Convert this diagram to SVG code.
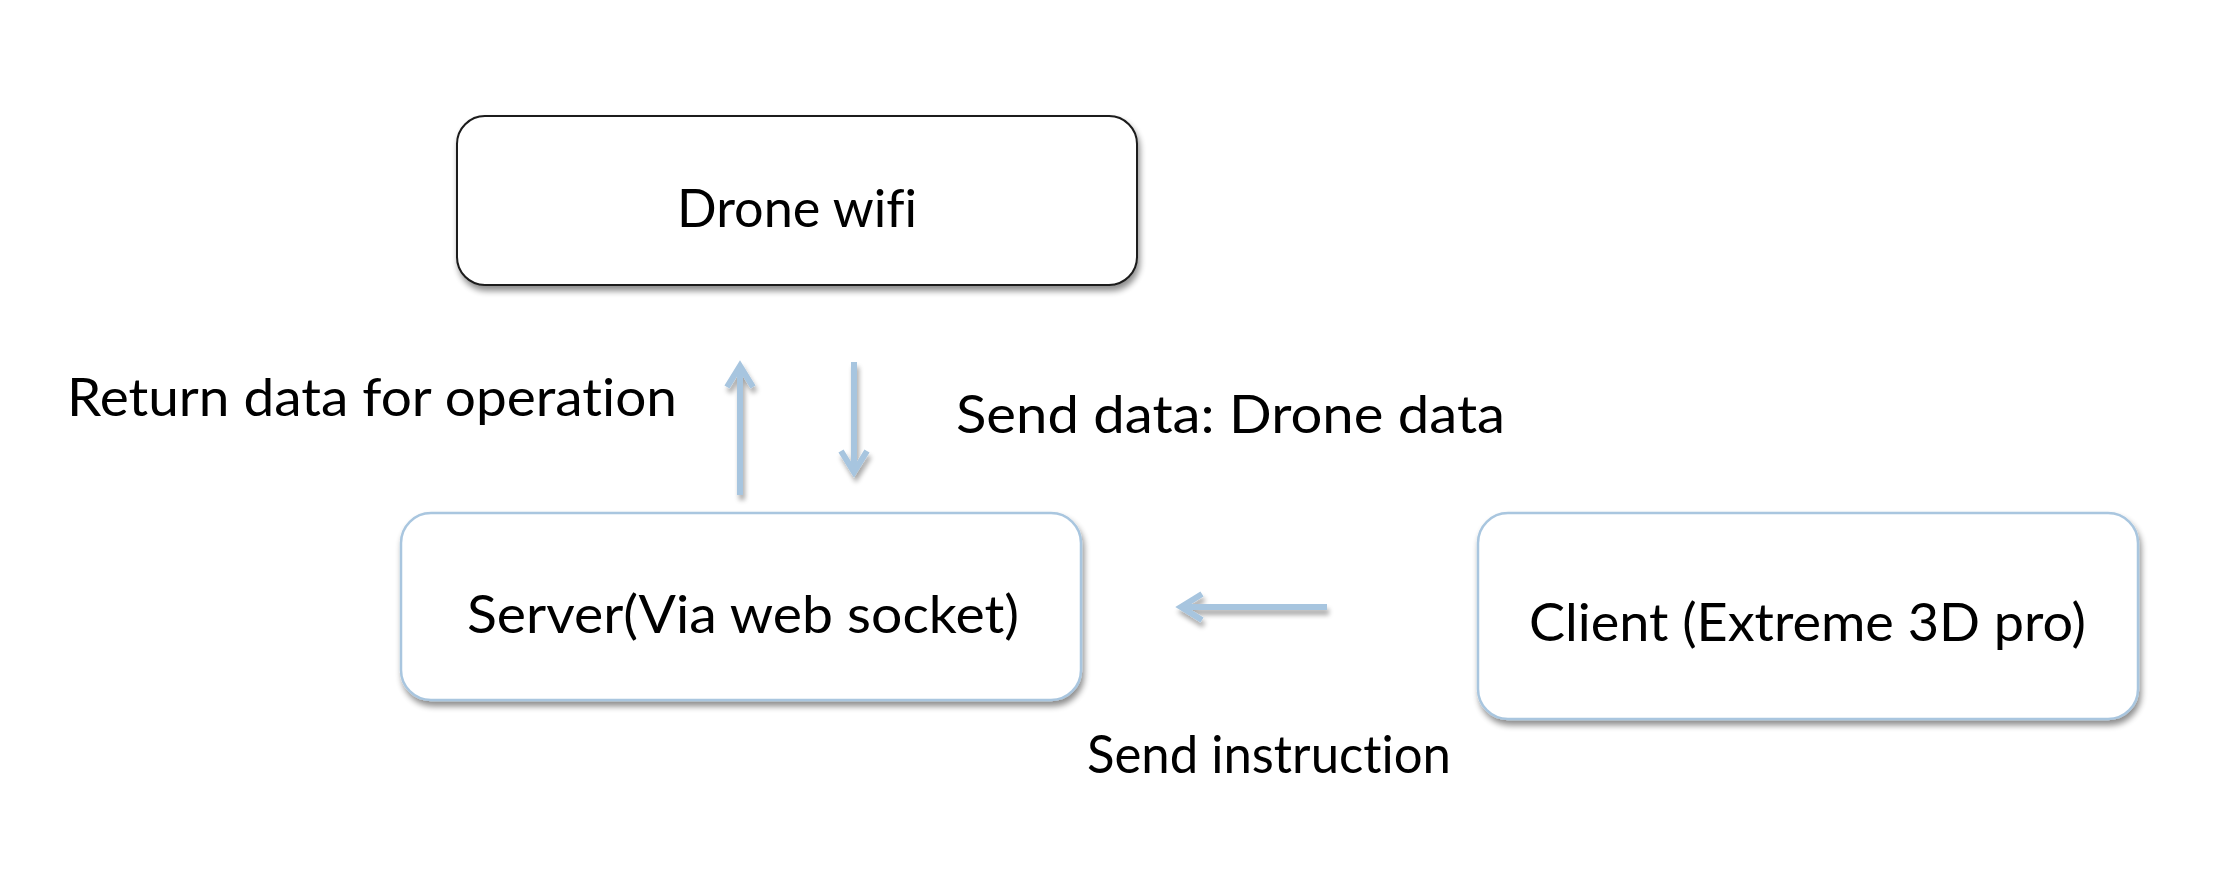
<svg xmlns="http://www.w3.org/2000/svg" width="2220" height="874" viewBox="0 0 2220 874">
  <style>
    .label { font-family: Lato, "Liberation Sans", sans-serif; font-size: 52px; fill: #000; font-variant-ligatures: none; font-feature-settings: "liga" 0, "clig" 0, "dlig" 0; }
    .box-dark { fill: #fff; stroke: #1a1a1a; stroke-width: 2; }
    .box-light { fill: #fff; stroke: #a9c6df; stroke-width: 2.5; }
    .flow { stroke: #a7c5df; stroke-width: 6; fill: none; stroke-linecap: butt; }
    .head { stroke: #a7c5df; stroke-width: 6; fill: none; stroke-linejoin: miter; stroke-linecap: butt; }
  </style>
  <defs>
    <filter id="shadow" x="-10%" y="-10%" width="125%" height="130%">
      <feGaussianBlur in="SourceAlpha" stdDeviation="3"/>
      <feOffset dx="2" dy="5" result="b"/>
      <feComponentTransfer><feFuncA type="linear" slope="0.45"/></feComponentTransfer>
      <feMerge><feMergeNode/><feMergeNode in="SourceGraphic"/></feMerge>
    </filter>
    <filter id="arrowShadow" x="-50%" y="-50%" width="200%" height="200%">
      <feGaussianBlur in="SourceAlpha" stdDeviation="2.5"/>
      <feOffset dx="2" dy="5" result="b"/>
      <feComponentTransfer><feFuncA type="linear" slope="0.35"/></feComponentTransfer>
      <feMerge><feMergeNode/><feMergeNode in="SourceGraphic"/></feMerge>
    </filter>
  </defs>

  <rect width="2220" height="874" fill="#fff"/>

  <g id="drone-wifi">
    <rect class="box-dark" x="457" y="116" width="680" height="169" rx="28" filter="url(#shadow)"/>
    <text class="label" x="677" y="227" textLength="240" lengthAdjust="spacingAndGlyphs">Drone wifi</text>
  </g>

  <g id="server">
    <rect class="box-light" x="401" y="513" width="680" height="187" rx="30" filter="url(#shadow)"/>
    <text class="label" x="467" y="633" textLength="552" lengthAdjust="spacingAndGlyphs">Server(Via web socket)</text>
  </g>

  <g id="client">
    <rect class="box-light" x="1478" y="513" width="660" height="206" rx="30" filter="url(#shadow)"/>
    <text class="label" x="1529" y="641" textLength="557" lengthAdjust="spacingAndGlyphs">Client (Extreme 3D pro)</text>
  </g>

  <g id="connectors">
    <!-- server to drone: return data -->
    <g filter="url(#arrowShadow)">
      <line class="flow" x1="740" y1="495" x2="740" y2="366"/>
      <polyline class="head" points="727,387 740,366 753,387"/>
    </g>
    <!-- drone to server: drone data -->
    <g filter="url(#arrowShadow)">
      <line class="flow" x1="854" y1="362" x2="854" y2="472"/>
      <polyline class="head" points="841,451 854,472 867,451"/>
    </g>
    <!-- client to server: instruction -->
    <g filter="url(#arrowShadow)">
      <line class="flow" x1="1327" y1="607" x2="1181" y2="607"/>
      <polyline class="head" points="1202,594 1181,607 1202,620"/>
    </g>
    <text class="label" x="67" y="416" textLength="610" lengthAdjust="spacingAndGlyphs">Return data for operation</text>
    <text class="label" x="956" y="433" textLength="549" lengthAdjust="spacingAndGlyphs">Send data: Drone data</text>
    <text class="label" x="1087" y="773" textLength="364" lengthAdjust="spacingAndGlyphs">Send instruction</text>
  </g>
</svg>
